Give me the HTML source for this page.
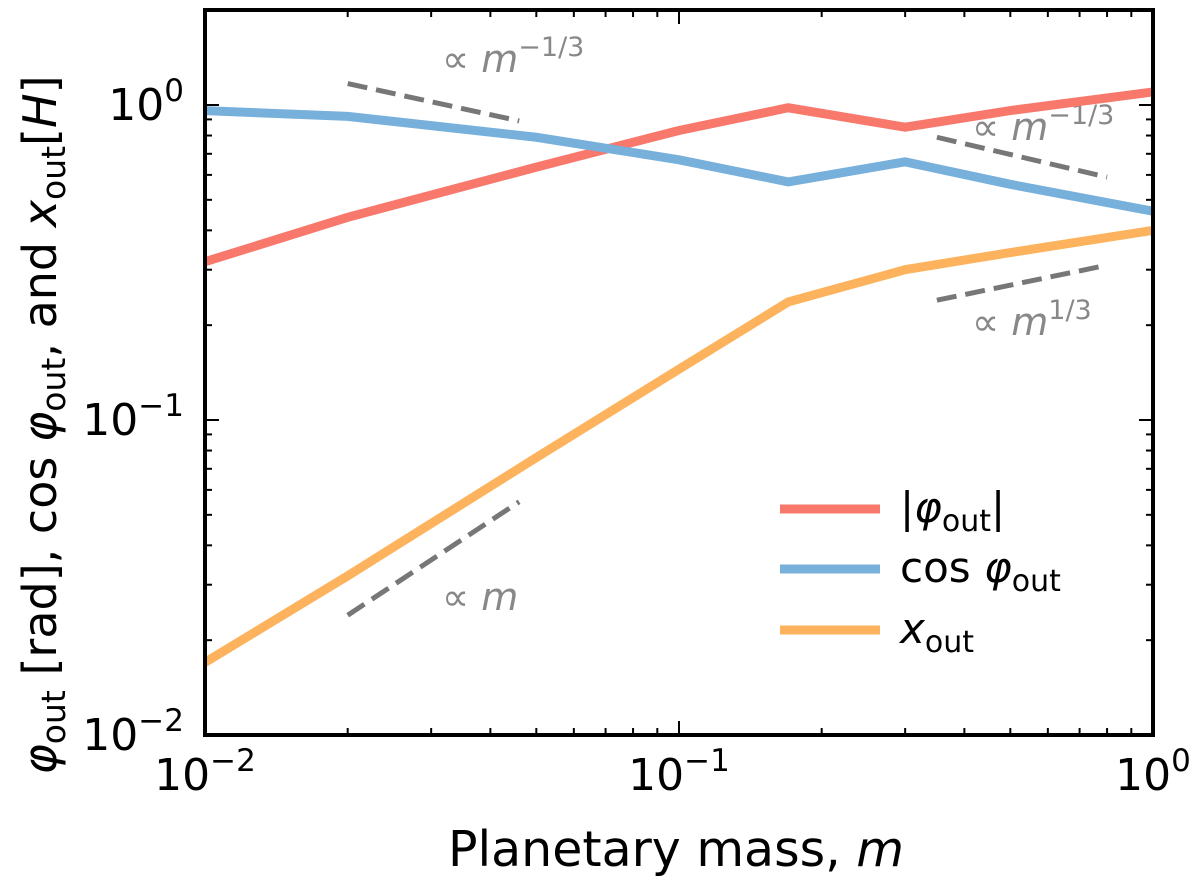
<!DOCTYPE html>
<html><head><meta charset="utf-8"><style>
body{margin:0;background:#fff}
svg text{font-family:"DejaVu Sans","Liberation Sans",sans-serif}
</style></head><body>
<svg id="c" width="1200" height="880"></svg>
<script>
const masses=[0.01,0.02,0.05,0.1,0.17,0.3,0.5,1];
const phiOut=[0.318,0.44,0.635,0.83,0.98,0.85,0.96,1.1];
const cosPhi=[0.96,0.92,0.79,0.67,0.57,0.66,0.56,0.46];
const xOut=[0.017,0.032,0.076,0.145,0.237,0.30,0.34,0.40];
const guideM=[[0.02,0.046],[0.35,0.8],[0.35,0.8],[0.02,0.046]];
const guideY=[[1.17,0.89],[0.79,0.59],[0.24,0.31],[0.024,0.055]];
const xTicks=[0.01,0.1,1];
const yTicks=[0.01,0.1,1];
const tickExp=["−2","−1","0"];
const L=205,R=1153,T=10,B=735;
const ns="http://www.w3.org/2000/svg";
const svg=document.getElementById('c');
const X=m=>L+(Math.log10(m)+2)/2*(R-L);
const Y=v=>105-Math.log10(v)*315;
function mk(t,a,p){const e=document.createElementNS(ns,t);for(const k in a)e.setAttribute(k,a[k]);(p||svg).appendChild(e);return e;}
for(let d=-2;d<=0;d++)for(let k=1;k<10;k++){const m=k*Math.pow(10,d);if(m>1)break;const x=X(m);const len=k==1?14:7;
const t1=mk('line',{x1:x,x2:x,y1:B,y2:B-len,stroke:'#000','stroke-width':2});
const t2=mk('line',{x1:x,x2:x,y1:T,y2:T+len,stroke:'#000','stroke-width':2});}
for(let d=-2;d<=0;d++)for(let k=1;k<10;k++){const v=k*Math.pow(10,d);const y=Y(v);if(y<T)break;const len=k==1?14:7;
const t1=mk('line',{x1:L,x2:L+len,y1:y,y2:y,stroke:'#000','stroke-width':2});
const t2=mk('line',{x1:R,x2:R-len,y1:y,y2:y,stroke:'#000','stroke-width':2});}
xTicks.forEach((m,i)=>{const t=mk('text',{x:X(m),y:790,'font-size':44,'text-anchor':'middle'});t.innerHTML='10<tspan dy="-19" font-size="31">'+tickExp[i]+'</tspan>';});
yTicks.forEach((v,i)=>{const t=mk('text',{x:184,y:Y(v)+15,'font-size':44,'text-anchor':'end'});t.innerHTML='10<tspan dy="-19" font-size="31">'+tickExp[i]+'</tspan>';});
const glabels=[['∝ ','m','−1/3',442,72],['∝ ','m','−1/3',972,140],['∝ ','m','1/3',972,335],['∝ ','m','',442,610]];
guideM.forEach((g,i)=>{const l=mk('line',{x1:X(g[0]),y1:Y(guideY[i][0]),x2:X(g[1]),y2:Y(guideY[i][1]),stroke:'#777','stroke-width':5,'stroke-dasharray':'20,9'});
const a=glabels[i];const t=mk('text',{x:a[3],y:a[4],'font-size':38,fill:'#888'});
t.innerHTML=a[0]+'<tspan font-style="italic">'+a[1]+'</tspan>'+(a[2]?'<tspan dy="-16" font-size="27">'+a[2]+'</tspan>':'');});
const series=[[phiOut,'#f8786c','phi-out-line'],[cosPhi,'#78b0dc','cos-phi-line'],[xOut,'#fdb35d','x-out-line']];
const cp=mk('clipPath',{id:'cp'});mk('rect',{x:L,y:T,width:R-L,height:B-T},cp);
series.forEach(s=>{const p=mk('polyline',{points:masses.map((m,i)=>X(m)+','+Y(s[0][i])).join(' '),fill:'none',stroke:s[1],'stroke-width':9,'clip-path':'url(#cp)'});});
const fr=mk('rect',{x:L,y:T,width:R-L,height:B-T,fill:'none',stroke:'#000','stroke-width':4});
const leg=[['#f8786c','|<tspan font-style="italic">φ</tspan><tspan dy="9" font-size="30">out</tspan><tspan dy="-9">|</tspan>',509],['#78b0dc','cos <tspan font-style="italic">φ</tspan><tspan dy="9" font-size="30">out</tspan>',569],['#fdb35d','<tspan font-style="italic">x</tspan><tspan dy="9" font-size="30">out</tspan>',630]];
leg.forEach(e=>{const l=mk('line',{x1:780,x2:880,y1:e[2],y2:e[2],stroke:e[0],'stroke-width':9});
const t=mk('text',{x:900,y:e[2]+13,'font-size':42});t.innerHTML=e[1];});
const xl=mk('text',{x:676,y:866,'font-size':49,'text-anchor':'middle'});xl.innerHTML='Planetary mass, <tspan font-style="italic">m</tspan>';
const yl=mk('text',{x:0,y:0,'font-size':46,'text-anchor':'middle',transform:'translate(56,425) rotate(-90)'});
yl.innerHTML='<tspan font-style="italic">φ</tspan><tspan dy="9" font-size="33">out</tspan><tspan dy="-9"> [rad], cos </tspan><tspan font-style="italic">φ</tspan><tspan dy="9" font-size="33">out</tspan><tspan dy="-9">, and </tspan><tspan font-style="italic">x</tspan><tspan dy="9" font-size="33">out</tspan><tspan dy="-9">[</tspan><tspan font-style="italic">H</tspan>]';
</script>
</body></html>
